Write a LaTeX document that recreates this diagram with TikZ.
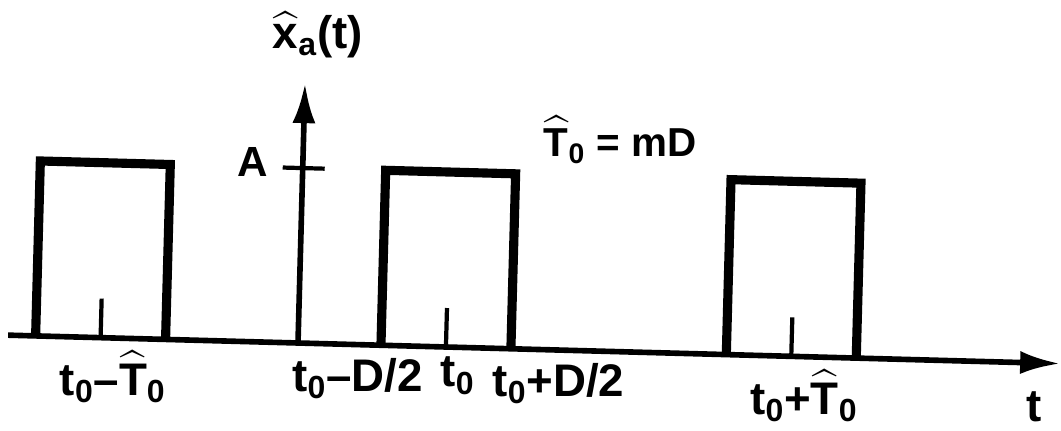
\documentclass[tikz,border=0pt]{standalone}
\usepackage{amsmath}
\usepackage{fontspec}
\setmainfont{Liberation Sans}
\usepackage{tikz}
\usetikzlibrary{arrows.meta,calc}

\newcommand{\tsub}[2]{\text{#1}_{\text{#2}}}
\newcommand{\hatT}{\widehat{\text{T}}}

\begin{document}
\begin{tikzpicture}[
  font=\fontsize{26}{30}\selectfont\bfseries,
  axis/.style={line width=3.2pt, -{Latex[length=0.8cm,width=0.46cm]}},
  pulse/.style={line width=5.2pt, line join=miter},
  tick/.style={line width=2.4pt},
  lab/.style={anchor=north, inner sep=0pt}
]
  \useasboundingbox (-5.96,-1.74) rectangle (15.26,6.86);
  \begin{scope}[rotate=-1.55]
  % axes
  \coordinate (o) at (0,0);
  \coordinate (tbeg) at (-5.8,0);
  \coordinate (tend) at (15.25,0);
  \coordinate (xtop) at (0,5.2);
  \draw[axis] (tbeg) -- (tend);
  \draw[axis] (o) -- (xtop);
  \coordinate (aleft) at (-0.4,3.5);
  \coordinate (aright) at (0.44,3.5);
  \draw[tick] (aleft) -- (aright);
  \node[font=\fontsize{24}{28}\selectfont\bfseries] (alab) at (-1.0,3.6) {A};
  \node (xlab) at (0.23,6.17) {$\widehat{\text{x}}_{\text{a}}\text{(t)}$};
  \node[font=\fontsize{23}{27}\selectfont\bfseries] (period) at (6.33,4.24) {$\hatT_{\text{0}}\text{ = mD}$};

  % pulses
  \foreach \c/\n in {-3.95/prev, 2.96/cur, 9.87/next} {
    \coordinate (\n) at (\c,0);
    \draw[pulse] ($(\n)+(-1.3,0)$) -- ++(0,3.5) -- ++(2.6,0) -- ++(0,-3.5);
    \draw[tick] (\n) -- ++(0,0.78);
  }

  % time labels
  \node[lab] (lprev) at (-3.7,-0.26) {$\tsub{t}{0}\text{–}\hatT_{\text{0}}$};
  \node[lab] (lcurm) at (1.2,-0.26) {$\tsub{t}{0}\text{–D/2}$};
  \node[lab] (lcur) at (3.2,-0.19) {$\tsub{t}{0}$};
  \node[lab] (lcurp) at (5.22,-0.26) {$\tsub{t}{0}\text{+D/2}$};
  \node[lab] (lnext) at (10.13,-0.26) {$\tsub{t}{0}\text{+}\hatT_{\text{0}}$};
  \node[lab] (ltime) at (14.74,-0.56) {t};
  \end{scope}
\end{tikzpicture}
\end{document}
